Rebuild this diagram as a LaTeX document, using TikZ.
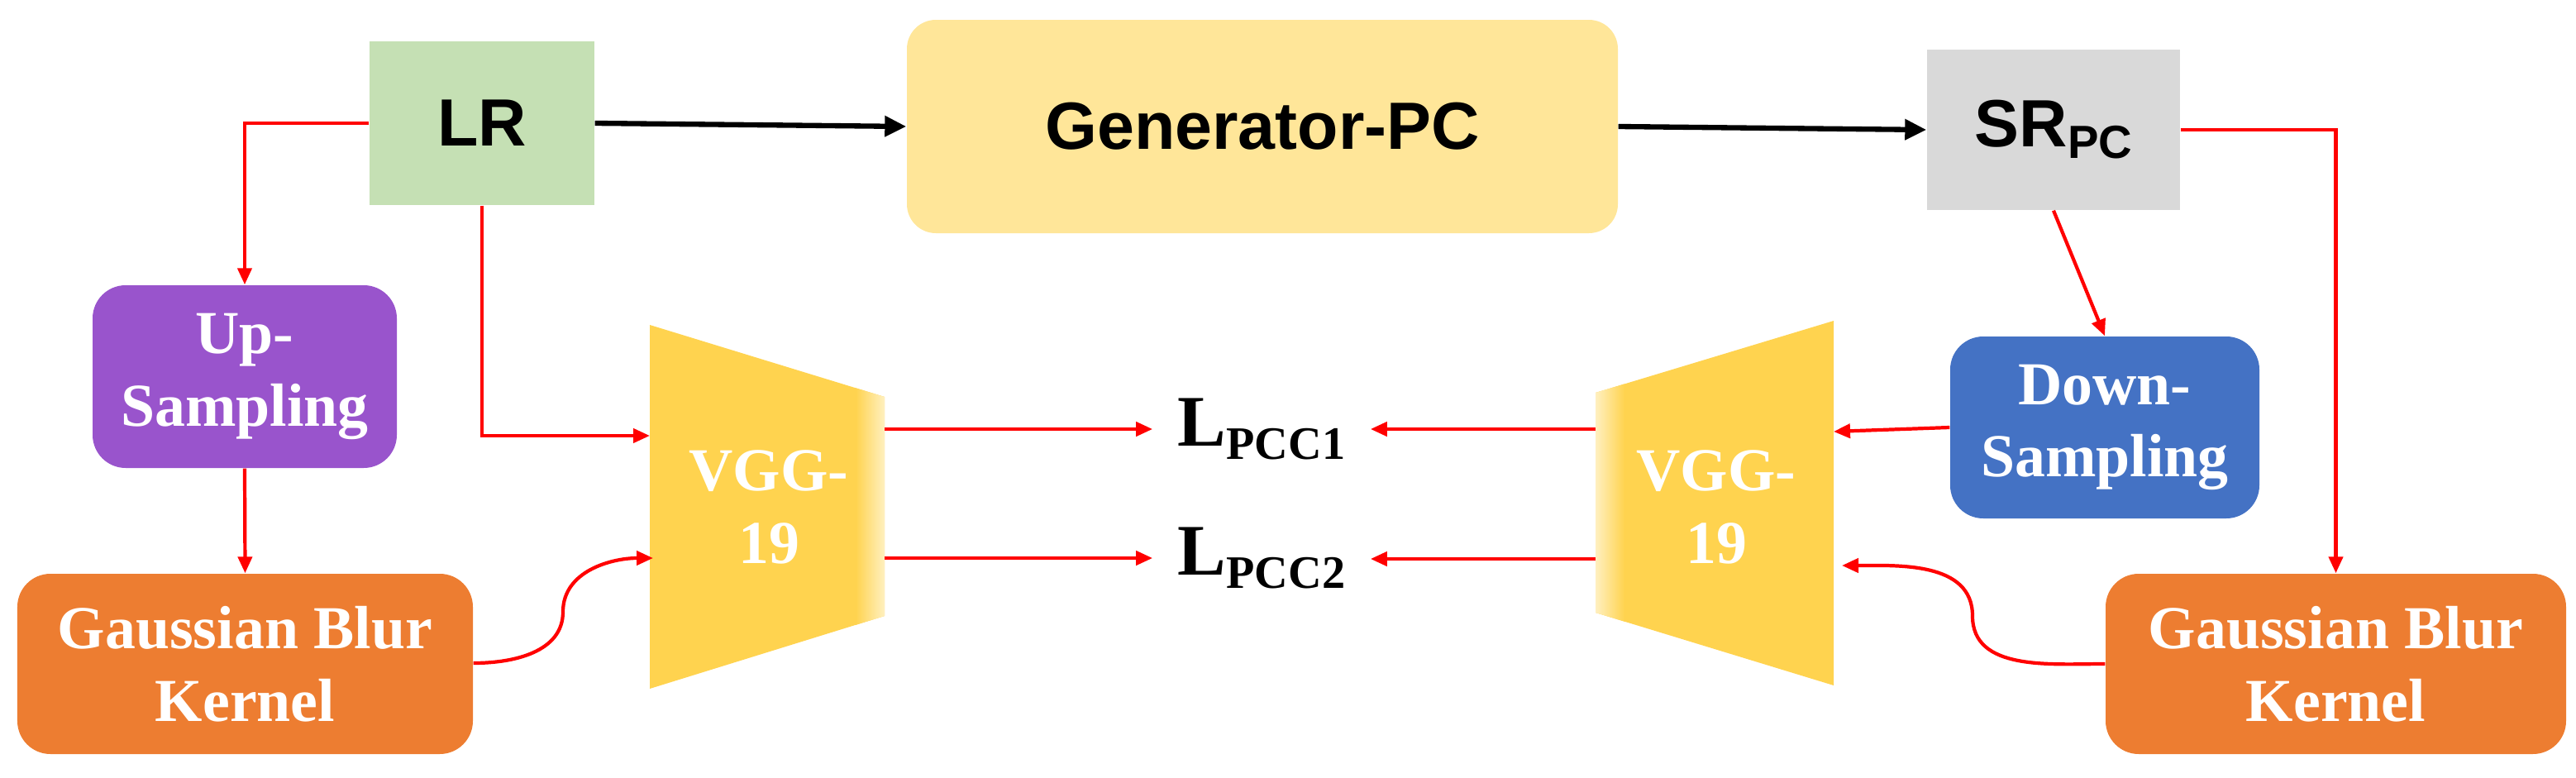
\documentclass[tikz,border=0pt]{standalone}
\usepackage{fontspec}
\setmainfont{Liberation Serif}
\newfontfamily\sansf{Liberation Sans}
\usetikzlibrary{arrows.meta,calc}
\definecolor{cLR}{HTML}{C5E0B4}
\definecolor{cGen}{HTML}{FFE699}
\definecolor{cSR}{HTML}{D9D9D9}
\definecolor{cUp}{HTML}{9954CC}
\definecolor{cDown}{HTML}{4472C4}
\definecolor{cGau}{HTML}{ED7D31}
\definecolor{cVgg}{HTML}{FFD34F}
\definecolor{cVggL}{HTML}{FFF0C0}
\tikzset{
 box/.style={rectangle,draw=none,align=center},
 sbox/.style={box,font=\sansf\bfseries\fontsize{23}{27}\selectfont},
 wbox/.style={box,rounded corners=0.4cm,text=white,font=\bfseries\fontsize{21}{25}\selectfont},
 red/.style={draw={rgb,255:red,255;green,0;blue,0},line width=1.2pt,-{Triangle[length=0.2cm,width=0.17cm]}},
 blk/.style={draw=black,line width=1.8pt,-{Triangle[length=0.26cm,width=0.24cm]}},
 lbl/.style={font=\bfseries\fontsize{25}{28}\selectfont,inner xsep=0.3cm}
}
\begin{document}
\begin{tikzpicture}
\useasboundingbox (0,0) rectangle (31.16,9.4);
% nodes
\node[sbox,fill=cLR,minimum width=2.72cm,minimum height=1.98cm] (LR) at (5.83,7.91) {LR};
\node[sbox,fill=cGen,rounded corners=0.35cm,minimum width=8.6cm,minimum height=2.58cm] (Gen) at (15.27,7.87) {Generator-PC};
\node[sbox,fill=cSR,minimum width=3.06cm,minimum height=1.94cm] (SR) at (24.84,7.83) {SR{\fontsize{16}{16}\selectfont\raisebox{-0.25em}{PC}}};
\node[wbox,fill=cUp,minimum width=3.68cm,minimum height=2.21cm] (Up) at (2.96,4.845) {Up-\\Sampling};
\node[wbox,fill=cGau,minimum width=5.51cm,minimum height=2.18cm] (GL) at (2.965,1.37) {Gaussian Blur\\Kernel};
\node[wbox,fill=cDown,minimum width=3.74cm,minimum height=2.2cm] (Down) at (25.46,4.23) {Down-\\Sampling};
\node[wbox,fill=cGau,minimum width=5.57cm,minimum height=2.18cm] (GR) at (28.255,1.37) {Gaussian Blur\\Kernel};
% VGG left
\fill[cVgg] (7.86,5.47) -- (10.70,4.60) -- (10.70,1.95) -- (7.86,1.07) -- cycle;
\begin{scope}
\clip (7.86,5.47) -- (10.70,4.60) -- (10.70,1.95) -- (7.86,1.07) -- cycle;
\shade[left color=cVgg,right color=cVggL] (10.35,1) rectangle (10.70,5.5);
\end{scope}
% VGG right
\fill[cVgg] (22.18,5.52) -- (19.30,4.65) -- (19.30,1.99) -- (22.18,1.11) -- cycle;
\begin{scope}
\clip (22.18,5.52) -- (19.30,4.65) -- (19.30,1.99) -- (22.18,1.11) -- cycle;
\shade[left color=cVggL,right color=cVgg] (19.30,1) rectangle (19.65,5.6);
\end{scope}
\node[box,text=white,font=\bfseries\fontsize{21}{25}\selectfont] (VL) at (9.30,3.27) {VGG-\\19};
\node[box,text=white,font=\bfseries\fontsize{21}{25}\selectfont] (VR) at (20.76,3.27) {VGG-\\19};
\coordinate (VLin1) at (7.86,4.13);
\coordinate (VLin2) at (7.90,2.65);
\coordinate (VLo1) at (10.70,4.21);
\coordinate (VLo2) at (10.70,2.65);
\coordinate (VRin1) at (22.18,4.18);
\coordinate (VRin2) at (22.28,2.56);
\coordinate (VRo1) at (19.30,4.21);
\coordinate (VRo2) at (19.30,2.64);
\node[lbl] (L1) at (15.26,4.21) {L{\fontsize{16}{16}\selectfont\raisebox{-0.3em}{PCC1}}};
\node[lbl] (L2) at (15.26,2.65) {L{\fontsize{16}{16}\selectfont\raisebox{-0.3em}{PCC2}}};
% black arrows
\draw[blk] (LR.east) -- (Gen.west);
\draw[blk] (Gen.east) -- (SR.west);
% red connectors
\draw[red] (LR.west) -| (Up.north);
\draw[red] (LR.south) |- (VLin1);
\draw[red] (Up.south) -- (GL.north);
\draw[red] ($(GL.east)+(0,0.01)$) to[out=0,in=-90] (6.81,2.0) to[out=90,in=180] (VLin2);
\draw[red] (VLo1) -- (L1.west |- VLo1);
\draw[red] (VLo2) -- (L2.west |- VLo2);
\draw[red] (SR.south) -- (Down.north);
\draw[red] (SR.east) -| (GR.north);
\draw[red] (Down.west) -- (VRin1);
\draw[red] (GR.west) to[out=180,in=-90] (23.86,1.95) to[out=90,in=0] (VRin2);
\draw[red] (VRo1) -- (L1.east |- VRo1);
\draw[red] (VRo2) -- (L2.east |- VRo2);
\end{tikzpicture}
\end{document}
